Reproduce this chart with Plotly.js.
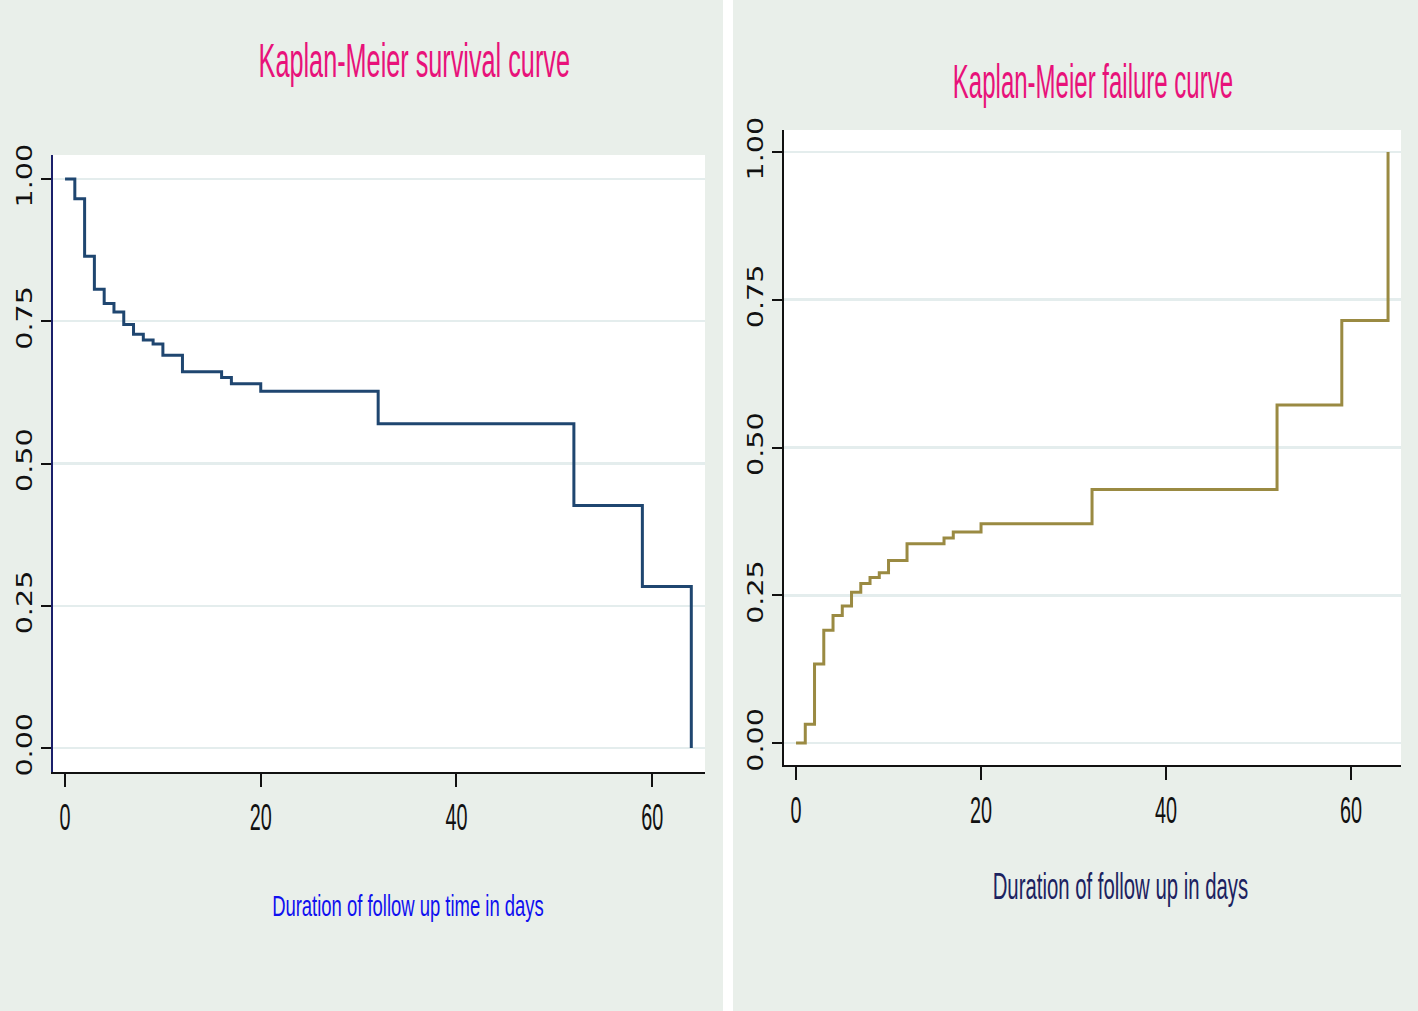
<!DOCTYPE html>
<html>
<head>
<meta charset="utf-8">
<script src="https://cdn.plot.ly/plotly-3.0.1.min.js"></script>
<style>
  html, body { margin: 0; padding: 0; background: #e9efea; }
  #chart { width: 1418px; height: 1011px; }
</style>
</head>
<body>
<div id="chart"></div>
<script>
// ---- Data ----
const survTimes = [0, 1, 2, 3, 4, 5, 6, 7, 8, 9, 10, 12, 16, 17, 20, 32, 52, 59, 64];
const survival  = [1.000, 0.965, 0.864, 0.806, 0.781, 0.766, 0.744, 0.727, 0.717, 0.710, 0.690, 0.661, 0.651, 0.640, 0.627, 0.570, 0.426, 0.284, 0.000];

const failTimes = [0, 1, 2, 3, 4, 5, 6, 7, 8, 9, 10, 12, 16, 17, 20, 32, 52, 59, 64];
const failure   = [0.000, 0.032, 0.134, 0.191, 0.216, 0.232, 0.255, 0.270, 0.280, 0.288, 0.309, 0.337, 0.347, 0.357, 0.371, 0.429, 0.572, 0.715, 1.000];

const xTickVals = [0, 20, 40, 60];
const yTickVals = [0, 0.25, 0.5, 0.75, 1];
const yTickText = ['0.00', '0.25', '0.50', '0.75', '1.00'];

const titleLeft  = 'Kaplan-Meier survival curve';
const titleRight = 'Kaplan-Meier failure curve';
const xTitleLeft  = 'Duration of follow up time in days';
const xTitleRight = 'Duration of follow up in days';

// ---- Styling ----
const W = 1418, H = 1011;
const px = v => v / W;
const py = v => (H - v) / H;

const BG = '#e9efea';
const GRID = '#e4eded';

function xAxis(domain, range, anchor) {
  return {
    domain: domain, range: range, anchor: anchor,
    tickvals: xTickVals, ticks: 'outside', ticklen: 13, tickwidth: 2, tickcolor: '#111',
    showline: true, linecolor: '#111', linewidth: 2,
    showgrid: false, zeroline: false, fixedrange: true,
    tickfont: { family: 'Liberation Sans, Arial, sans-serif', size: 36, color: '#111' }
  };
}
function yAxis(domain, range, anchor, lineColor) {
  return {
    domain: domain, range: range, anchor: anchor,
    tickvals: yTickVals, ticktext: yTickText, tickangle: -90,
    ticks: 'outside', ticklen: 10, tickwidth: 2, tickcolor: '#111',
    showline: true, linecolor: lineColor, linewidth: 2,
    showgrid: true, gridcolor: GRID, gridwidth: 2.5,
    zeroline: false, fixedrange: true,
    tickfont: { family: 'DejaVu Sans, Verdana, sans-serif', size: 22, color: '#111' }
  };
}

const data = [
  {
    x: survTimes, y: survival, type: 'scatter', mode: 'lines',
    line: { shape: 'hv', color: '#1f4670', width: 3 },
    xaxis: 'x', yaxis: 'y', hoverinfo: 'skip', showlegend: false
  },
  {
    x: failTimes, y: failure, type: 'scatter', mode: 'lines',
    line: { shape: 'hv', color: '#9a8a42', width: 3 },
    xaxis: 'x2', yaxis: 'y2', hoverinfo: 'skip', showlegend: false
  }
];

const layout = {
  width: W, height: H,
  margin: { l: 0, r: 0, t: 0, b: 0 },
  paper_bgcolor: BG,
  plot_bgcolor: '#ffffff',
  showlegend: false,
  xaxis:  xAxis([px(53), px(705)], [-1.23, 65.4], 'y'),
  yaxis:  yAxis([py(772), py(155)], [-0.042, 1.042], 'x', '#1a1f6a'),
  xaxis2: xAxis([px(784), px(1401)], [-1.30, 65.4], 'y2'),
  yaxis2: yAxis([py(765), py(130)], [-0.037, 1.037], 'x2', '#111'),
  shapes: [
    { type: 'rect', xref: 'paper', yref: 'paper', x0: px(723), x1: px(733), y0: 0, y1: 1,
      fillcolor: '#ffffff', line: { width: 0 }, layer: 'below' }
  ],
  annotations: [
    { text: titleLeft, xref: 'paper', yref: 'paper', x: px(414), y: py(60),
      xanchor: 'center', yanchor: 'middle', showarrow: false,
      font: { family: 'Liberation Sans, Arial, sans-serif', size: 49, color: '#e8127a' } },
    { text: titleRight, xref: 'paper', yref: 'paper', x: px(1093), y: py(81),
      xanchor: 'center', yanchor: 'middle', showarrow: false,
      font: { family: 'Liberation Sans, Arial, sans-serif', size: 49, color: '#e8127a' } },
    { text: xTitleLeft, xref: 'paper', yref: 'paper', x: px(408), y: py(905),
      xanchor: 'center', yanchor: 'middle', showarrow: false,
      font: { family: 'Liberation Sans, Arial, sans-serif', size: 30, color: '#1010f0' } },
    { text: xTitleRight, xref: 'paper', yref: 'paper', x: px(1120), y: py(886),
      xanchor: 'center', yanchor: 'middle', showarrow: false,
      font: { family: 'Liberation Sans, Arial, sans-serif', size: 37, color: '#1c2260' } }
  ]
};

// horizontal condensing factors (Stata draws these texts narrow)
const squeezeMap = {};
squeezeMap[titleLeft] = 0.515;
squeezeMap[titleRight] = 0.49;
squeezeMap[xTitleLeft] = 0.615;
squeezeMap[xTitleRight] = 0.55;

function squeeze(el, sx) {
  const bb = el.getBBox();
  const cx = bb.x + bb.width / 2, cy = bb.y + bb.height / 2;
  const prev = el.getAttribute('transform') || '';
  el.setAttribute('transform',
    prev + ' translate(' + cx + ',' + cy + ') scale(' + sx + ',1) translate(' + (-cx) + ',' + (-cy) + ')');
}

Plotly.newPlot('chart', data, layout, { displayModeBar: false, staticPlot: true }).then(function (gd) {
  gd.querySelectorAll('.annotation-text').forEach(function (t) {
    const s = squeezeMap[t.textContent];
    if (s) squeeze(t, s);
  });
  gd.querySelectorAll('.xtick text, .x2tick text').forEach(function (t) {
    squeeze(t, 0.55);
  });
  // y tick labels in the reference are drawn wider along the text direction
  gd.querySelectorAll('.ytick text, .y2tick text').forEach(function (t) {
    squeeze(t, 1.3);
  });
});
</script>
</body>
</html>
